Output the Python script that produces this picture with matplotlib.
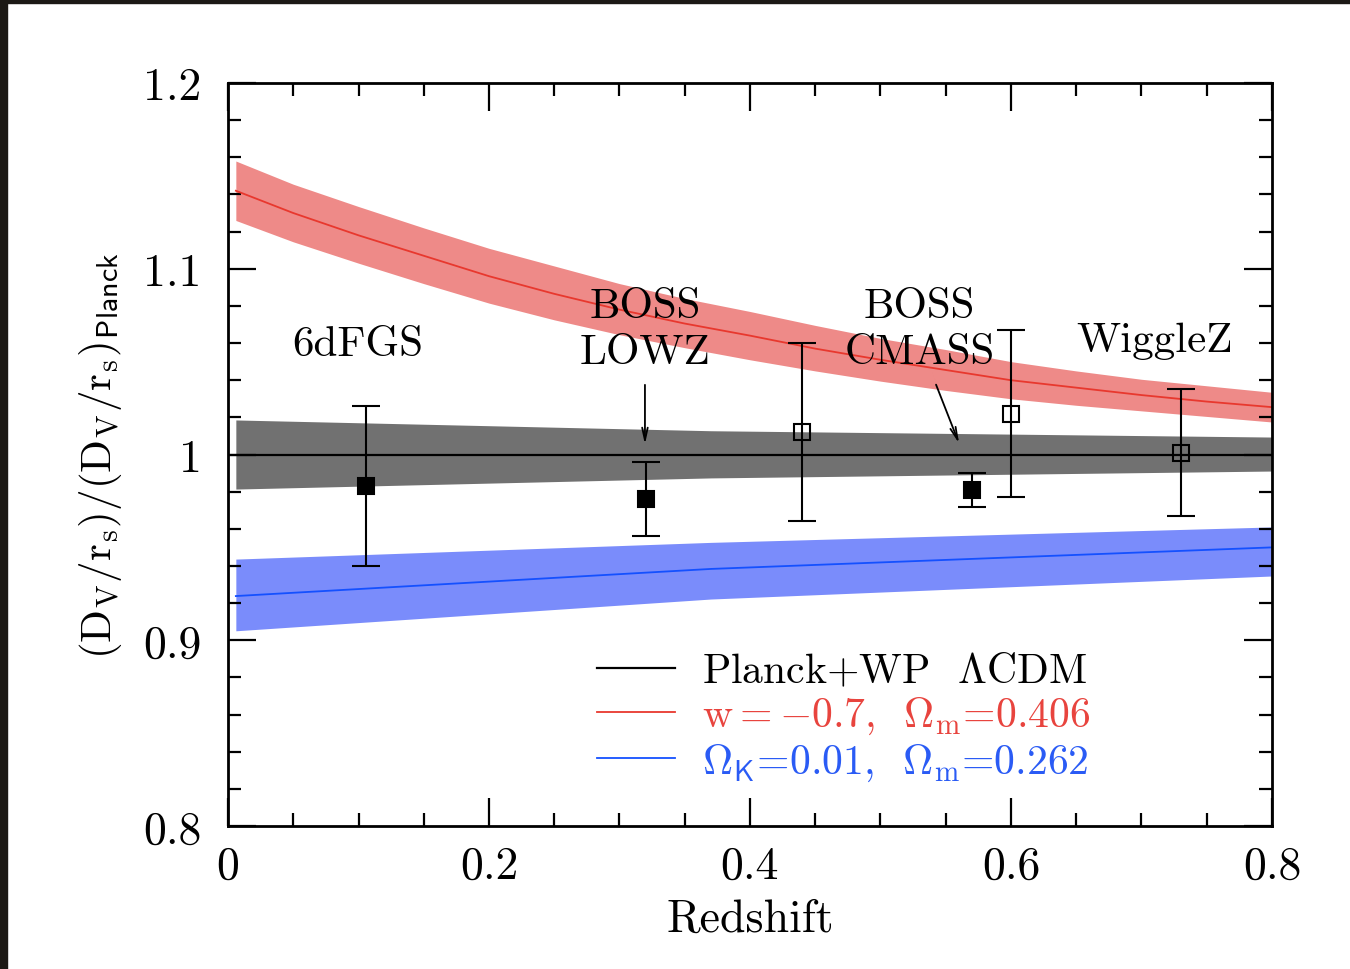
import numpy as np
import matplotlib
matplotlib.use("Agg")
import matplotlib.pyplot as plt
from matplotlib.patches import Rectangle

plt.rcParams['font.family'] = 'serif'
plt.rcParams['font.serif'] = ['cmr10']
plt.rcParams['mathtext.fontset'] = 'cm'
plt.rcParams['axes.unicode_minus'] = False
plt.rcParams['axes.formatter.use_mathtext'] = True

# BAO measurements
survey_z = [0.106, 0.32, 0.44, 0.57, 0.60, 0.73]
survey_ratio = [0.983, 0.976, 1.012, 0.981, 1.022, 1.001]
survey_err = [0.043, 0.020, 0.048, 0.0092, 0.045, 0.034]
survey_filled = [True, True, False, True, False, False]

# Planck+WP LCDM band
lcdm_z = [0.006, 0.37, 0.8]
lcdm_lo = [0.9814, 0.9874, 0.9911]
lcdm_hi = [1.0186, 1.0128, 1.0094]

# w = -0.7 band
wcdm_z = [0.006, 0.05, 0.1, 0.15, 0.2, 0.25, 0.3, 0.35, 0.4,
          0.45, 0.5, 0.55, 0.6, 0.65, 0.7, 0.75, 0.8]
wcdm_mid = [1.142, 1.130, 1.118, 1.107, 1.096, 1.0865, 1.078, 1.0705, 1.064,
            1.057, 1.051, 1.0455, 1.040, 1.036, 1.032, 1.0285, 1.0255]
wcdm_lo = [1.126, 1.1145, 1.103, 1.092, 1.0815, 1.0725, 1.0645, 1.0575, 1.051,
           1.045, 1.0395, 1.0345, 1.030, 1.0265, 1.0235, 1.0205, 1.0175]
wcdm_hi = [1.158, 1.1455, 1.1335, 1.122, 1.111, 1.1015, 1.092, 1.084, 1.077,
           1.0695, 1.0625, 1.0565, 1.050, 1.045, 1.0405, 1.037, 1.0335]

# open universe band
ok_z = [0.006, 0.37, 0.8]
ok_mid = [0.9238, 0.9384, 0.950]
ok_lo = [0.9051, 0.9222, 0.9346]
ok_hi = [0.9437, 0.9527, 0.961]

labels = [r'Planck+WP  $\Lambda$CDM',
          r'w$=-$0.7,  $\Omega_{\rm m}$=0.406',
          r'$\Omega_{\mathsf{K}}$=0.01,  $\Omega_{\rm m}$=0.262']

fig = plt.figure(figsize=(13.5, 9.7), dpi=100)
ax = fig.add_axes([0.1689, 0.1474, 0.7733, 0.766])

ax.fill_between(wcdm_z, wcdm_lo, wcdm_hi, color='#ee8a88', lw=0, zorder=1)
ax.fill_between(lcdm_z, lcdm_lo, lcdm_hi, color='#717171', lw=0, zorder=1)
ax.fill_between(ok_z, ok_lo, ok_hi, color='#7a8cfb', lw=0, zorder=1)

ax.plot([0, 0.8], [1.0, 1.0], color='black', lw=1.6, zorder=2, label=labels[0])
ax.plot(wcdm_z, wcdm_mid, color='#e8382e', lw=1.3, zorder=2, label=labels[1])
ax.plot(ok_z, ok_mid, color='#1450ff', lw=1.3, zorder=2, label=labels[2])

for z, r, e, f in zip(survey_z, survey_ratio, survey_err, survey_filled):
    ax.errorbar(z, r, yerr=e, fmt='s', ms=11, mew=1.5,
                mfc='black' if f else 'none', mec='black', ecolor='black',
                elinewidth=1.5, capsize=10, capthick=1.5, zorder=3)

fs = 31
ax.text(0.0996, 1.0595, '6dFGS', fontsize=fs, ha='center', va='center')
ax.text(0.3195, 1.0676, 'BOSS\nLOWZ', fontsize=fs, ha='center', va='center', linespacing=1.3)
ax.text(0.530, 1.0676, 'BOSS\nCMASS', fontsize=fs, ha='center', va='center', linespacing=1.3)
ax.text(0.7103, 1.0616, 'WiggleZ', fontsize=fs, ha='center', va='center')
ax.annotate('', xy=(0.3195, 1.004), xytext=(0.3195, 1.039),
            arrowprops=dict(arrowstyle='->,head_length=0.9,head_width=0.2', color='black', lw=1.3))
ax.annotate('', xy=(0.561, 1.0046), xytext=(0.5418, 1.039),
            arrowprops=dict(arrowstyle='->,head_length=0.9,head_width=0.2', color='black', lw=1.3))

leg = ax.legend(loc='upper left', bbox_to_anchor=(0.318, 0.285), frameon=False,
                fontsize=30, handlelength=1.85, handletextpad=0.65, labelspacing=0.12)
for t, c in zip(leg.get_texts(), ['black', '#e8443e', '#2a5bf5']):
    t.set_color(c)

ax.set_xlim(0, 0.8)
ax.set_ylim(0.8, 1.2)
ax.set_xticks([0, 0.2, 0.4, 0.6, 0.8])
ax.set_xticklabels(['0', '0.2', '0.4', '0.6', '0.8'])
ax.set_xticks(np.arange(0, 0.801, 0.05), minor=True)
ax.set_yticks([0.8, 0.9, 1.0, 1.1, 1.2])
ax.set_yticklabels(['0.8', '0.9', '1', '1.1', '1.2'])
ax.set_yticks(np.arange(0.8, 1.2001, 0.02), minor=True)
ax.tick_params(which='both', direction='in', top=True, right=True, labelsize=33, width=1.6)
ax.tick_params(axis='y', which='major', length=20, pad=19)
ax.tick_params(axis='x', which='major', length=20, pad=14)
ax.tick_params(which='minor', length=9.5)
for s in ax.spines.values():
    s.set_linewidth(2)

ax.set_xlabel('Redshift', fontsize=33, labelpad=8)
ax.set_ylabel(r'$(\mathrm{D_V/r_s})/(\mathrm{D_V/r_s})_{\mathsf{Planck}}$', fontsize=31, labelpad=14)

# dark screenshot frame at top and left
fig.patches.append(Rectangle((0, 1 - 4 / 970), 1, 4 / 970, transform=fig.transFigure,
                             color='#1c1915', zorder=10))
fig.patches.append(Rectangle((0, 0), 7 / 1350, 1, transform=fig.transFigure,
                             color='#1c1915', zorder=10))

fig.savefig('out.png', dpi=100)
